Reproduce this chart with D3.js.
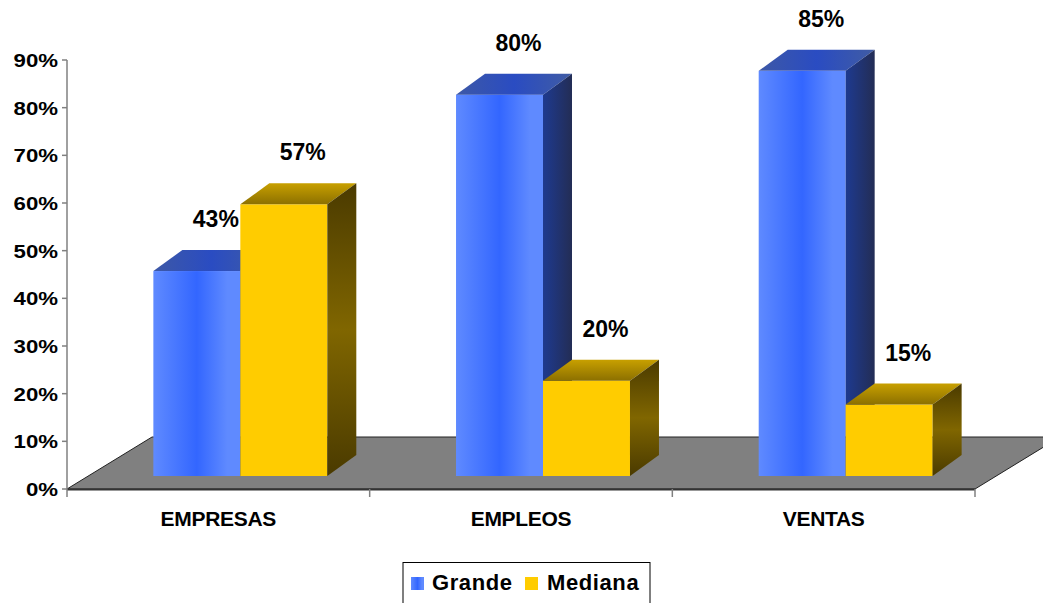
<!DOCTYPE html>
<html>
<head>
<meta charset="utf-8">
<script src="https://cdn.jsdelivr.net/npm/d3@7"></script>
<style>
  html, body { margin: 0; padding: 0; background: #fff; }
  svg { display: block; }
  text { font-family: "Liberation Sans", Arial, sans-serif; font-weight: bold; fill: #000; }
</style>
</head>
<body>
<svg id="chart" width="1043" height="603"></svg>
<script>
// ---- data ----
const categories = ["EMPRESAS", "EMPLEOS", "VENTAS"];
const seriesNames = ["Grande", "Mediana"];
const grande = [0.43, 0.80, 0.85];
const mediana = [0.57, 0.20, 0.15];
const yTicks = [0, 0.1, 0.2, 0.3, 0.4, 0.5, 0.6, 0.7, 0.8, 0.9];

const svg = d3.select("#chart");

// layout
const x0 = 67, x1 = 975, yBase = 489, yTop = 60;
const floorD = { dx: 85, dy: -52 };   // depth of floor
const front = { dx: 22, dy: -13 };    // front plane of bars
const depth = { dx: 29, dy: -21 };    // bar depth

const y = d3.scaleLinear().domain([0, 0.9]).range([yBase, yTop]);
const xCat = d3.scaleBand().domain(categories).range([x0, x1]).paddingInner(0).paddingOuter(0);
const xSer = d3.scaleBand().domain(seriesNames).range([0, xCat.bandwidth()]).paddingInner(0).paddingOuter(0.74);

// gradients
const defs = svg.append("defs");
function grad(id, x2, y2, stops) {
  const g = defs.append("linearGradient").attr("id", id)
    .attr("x1", 0).attr("y1", 0).attr("x2", x2).attr("y2", y2);
  stops.forEach(s => g.append("stop").attr("offset", s[0]).attr("stop-color", s[1]));
}
grad("bFront", 1, 0, [[0, "#5f8aff"], [0.5, "#3366ff"], [0.85, "#5f8aff"], [1, "#5f8aff"]]);
grad("bTop", 1, 0, [[0, "#3d58a6"], [0.5, "#2a4cc2"], [1, "#405ca4"]]);
grad("bSide", 1, 0, [[0, "#1e3a90"], [1, "#232d55"]]);
grad("yFront", 1, 0, [[0, "#ffcc00"], [1, "#ffcc00"]]);
grad("yTop", 0, 1, [[0, "#c8a000"], [1, "#8c7000"]]);
grad("ySide", 0, 1, [[0, "#4a3a00"], [0.5, "#806600"], [1, "#4a3a00"]]);

const fills = {
  Grande: { front: "url(#bFront)", top: "url(#bTop)", side: "url(#bSide)", legend: "url(#bFront)" },
  Mediana: { front: "url(#yFront)", top: "url(#yTop)", side: "url(#ySide)", legend: "#ffcc00" }
};

// floor
const floorPts = [
  [x0, yBase], [x1, yBase],
  [x1 + floorD.dx, yBase + floorD.dy], [x0 + floorD.dx, yBase + floorD.dy]
];
svg.append("polygon")
  .attr("points", floorPts.map(p => p.join(",")).join(" "))
  .attr("fill", "#808080").attr("stroke", "#222").attr("stroke-width", 1);
svg.append("line").attr("x1", x0).attr("x2", x1).attr("y1", yBase + 0.5).attr("y2", yBase + 0.5)
  .attr("stroke", "#333").attr("stroke-width", 2);

// y axis
const axisG = svg.append("g");
axisG.append("line").attr("x1", x0).attr("x2", x0).attr("y1", yTop).attr("y2", yBase + 8)
  .attr("stroke", "#808080").attr("stroke-width", 1.5);
yTicks.forEach(t => {
  axisG.append("line").attr("x1", x0 - 5).attr("x2", x0).attr("y1", y(t)).attr("y2", y(t))
    .attr("stroke", "#808080").attr("stroke-width", 1.5);
  axisG.append("text")
    .attr("transform", `translate(${x0 - 9},${y(t) + 7}) scale(1.17,1)`)
    .attr("text-anchor", "end").attr("font-size", 19)
    .text(d3.format(".0%")(t));
});

// category ticks
categories.forEach(c => {
  const xr = xCat(c) + xCat.bandwidth();
  svg.append("line").attr("x1", xr).attr("x2", xr).attr("y1", yBase).attr("y2", yBase + 8)
    .attr("stroke", "#808080").attr("stroke-width", 1.5);
});

// bars
const bars = svg.append("g");
const series = [["Grande", grande], ["Mediana", mediana]];
categories.forEach((c, i) => {
  series.forEach(([name, vals]) => {
    const v = vals[i];
    const xl = xCat(c) + xSer(name) + front.dx;
    const xr = xl + xSer.bandwidth();
    const yt = y(v) + front.dy;
    const yb = y(0) + front.dy;
    const f = fills[name];
    bars.append("rect").attr("x", xl).attr("y", yt).attr("width", xr - xl).attr("height", yb - yt)
      .attr("fill", f.front);
    bars.append("polygon")
      .attr("points", [[xl, yt], [xr, yt], [xr + depth.dx, yt + depth.dy], [xl + depth.dx, yt + depth.dy]].map(p => p.join(",")).join(" "))
      .attr("fill", f.top);
    bars.append("polygon")
      .attr("points", [[xr, yt], [xr + depth.dx, yt + depth.dy], [xr + depth.dx, yb + depth.dy], [xr, yb]].map(p => p.join(",")).join(" "))
      .attr("fill", f.side);
  });
});

// data labels
const labels = svg.append("g");
categories.forEach((c, i) => {
  series.forEach(([name, vals]) => {
    const v = vals[i];
    const cx = xCat(c) + xSer(name) + front.dx + xSer.bandwidth() / 2 + 19;
    labels.append("text")
      .attr("x", cx).attr("y", y(v) + front.dy - 44)
      .attr("text-anchor", "middle").attr("font-size", 23)
      .text(d3.format(".0%")(v));
  });
});

// category labels
categories.forEach(c => {
  svg.append("text")
    .attr("x", xCat(c) + xCat.bandwidth() / 2).attr("y", 526)
    .attr("text-anchor", "middle").attr("font-size", 21).attr("letter-spacing", -0.3)
    .text(c);
});

// legend
const lg = svg.append("g");
lg.append("rect").attr("x", 403).attr("y", 562.5).attr("width", 247).attr("height", 50)
  .attr("fill", "#fff").attr("stroke", "#000").attr("stroke-width", 1);
const legItems = [{ name: "Grande", sx: 411, tx: 432 }, { name: "Mediana", sx: 525, tx: 547 }];
legItems.forEach(d => {
  lg.append("rect").attr("x", d.sx).attr("y", 577).attr("width", 13).attr("height", 13)
    .attr("fill", fills[d.name].legend);
  lg.append("text").attr("x", d.tx).attr("y", 590).attr("font-size", 22).attr("letter-spacing", 0.6)
    .text(d.name);
});
</script>
</body>
</html>
